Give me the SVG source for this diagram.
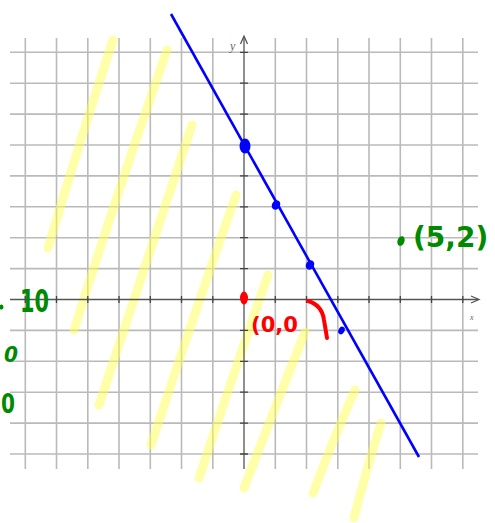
<svg xmlns="http://www.w3.org/2000/svg" width="495" height="523" viewBox="0 0 495 523">
<style>
.grid{stroke:#bababa;stroke-width:1.6;fill:none}
.axis{stroke:#555;stroke-width:1.3;fill:none}
.tick{stroke:#444;stroke-width:1.3}
.hl{stroke:#ffff55;stroke-opacity:0.5;stroke-width:9;stroke-linecap:round;fill:none}
.lab{font-family:"Liberation Serif",serif;font-style:italic;fill:#666}
.green{font-family:"DejaVu Sans","Liberation Sans",sans-serif;font-weight:bold;fill:#008a00}
.red{font-family:"DejaVu Sans","Liberation Sans",sans-serif;font-weight:bold;fill:#ff0000}
</style>
<rect width="495" height="523" fill="#fff"/>
<g id="grid">
<path class="grid" d="M25.3,38V469M56.5,38V469M87.8,38V469M119,38V469M150.3,38V469M181.5,38V469M212.8,38V469M275.3,38V469M306.5,38V469M337.8,38V469M369,38V469M400.3,38V469M431.5,38V469M462.8,38V469"/>
<path class="grid" d="M10,52.3H478M10,83.2H478M10,114.1H478M10,145H478M10,175.9H478M10,206.8H478M10,237.7H478M10,268.6H478M10,330.4H478M10,361.3H478M10,392.2H478M10,423.1H478M10,454H478"/>
</g>
<g id="highlight">
<path class="hl" d="M113,40 Q80,140 48,248"/>
<path class="hl" d="M167,50 Q118,190 74,330"/>
<path class="hl" d="M192,125 Q145,265 99,405"/>
<path class="hl" d="M236,195 Q192,320 151,445"/>
<path class="hl" d="M268,275 Q232,378 199,478"/>
<path class="hl" d="M305,332 Q274,410 244,488"/>
<path class="hl" d="M355,390 Q333,440 313,493"/>
<path class="hl" d="M381,423 Q366,470 354,518"/>
</g>
<g id="axes">
<path class="axis" d="M244,37V469M10,299.5H478"/>
<path class="axis" d="M240.5,44L244,36L247.5,44M471,296L479,299.5L471,303"/>
<path class="tick" d="M240,52.3H248M240,83.2H248M240,114.1H248M240,145H248M240,175.9H248M240,206.8H248M240,237.7H248M240,268.6H248M240,330.4H248M240,361.3H248M240,392.2H248M240,423.1H248M240,454H248"/>
<path class="tick" d="M25.3,296V303M56.5,296V303M87.8,296V303M119,296V303M150.3,296V303M181.5,296V303M212.8,296V303M275.3,296V303M306.5,296V303M337.8,296V303M369,296V303M400.3,296V303M431.5,296V303M462.8,296V303"/>
<text class="lab" x="230" y="50" font-size="12">y</text>
<text class="lab" x="470" y="320" font-size="8">x</text>
</g>
<g id="line">
<path d="M171,14L419,457" stroke="#0000ff" stroke-width="2.6" fill="none"/>
</g>
<g id="points" fill="#0000ff">
<ellipse cx="245" cy="146" rx="5.5" ry="7.5"/>
<ellipse cx="276" cy="205" rx="4" ry="5" transform="rotate(30 276 205)"/>
<ellipse cx="310" cy="265" rx="4" ry="5" transform="rotate(30 310 265)"/>
<ellipse cx="341.5" cy="330.5" rx="3" ry="4" transform="rotate(30 341.5 330.5)"/>
</g>
<g id="origin">
<ellipse cx="244" cy="298" rx="4" ry="6.5" fill="#ff0000"/>
<text class="red" x="251" y="332" font-size="21" textLength="47" lengthAdjust="spacingAndGlyphs">(0,0</text>
<path d="M308,301 Q322,305 324,320 Q326,332 327,338" stroke="#ff0000" stroke-width="4" fill="none" stroke-linecap="round"/>
</g>
<g id="point52">
<ellipse cx="401" cy="241" rx="3.5" ry="5" fill="#008a00" transform="rotate(20 401 241)"/>
<text class="green" x="413" y="247" font-size="28">(5,2)</text>
</g>
<g id="left-notes">
<ellipse cx="1.5" cy="307" rx="2" ry="2.5" fill="#008a00"/>
<text class="green" x="20" y="312" font-size="32" textLength="29" lengthAdjust="spacingAndGlyphs">10</text>
<text class="green" x="4" y="362" font-size="22" font-style="italic" textLength="14" lengthAdjust="spacingAndGlyphs">0</text>
<text class="green" x="1" y="413" font-size="26" textLength="14" lengthAdjust="spacingAndGlyphs">0</text>
</g>
</svg>
